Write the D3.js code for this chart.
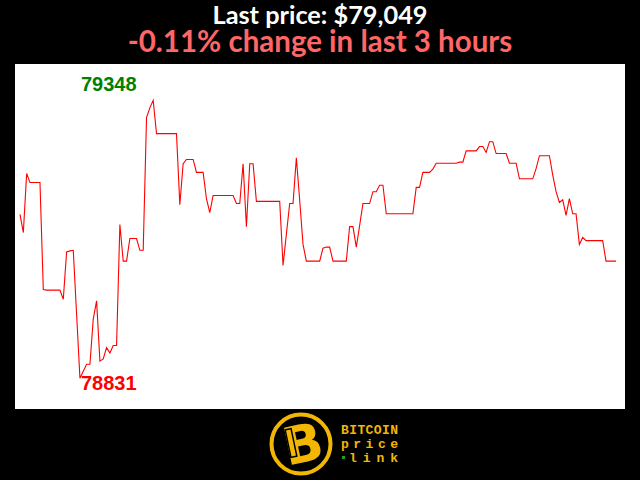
<!DOCTYPE html>
<html>
<head>
<meta charset="utf-8">
<script src="https://cdn.jsdelivr.net/npm/d3@7"></script>
<style>
  html, body { margin: 0; padding: 0; background: #000; }
  svg { display: block; }
</style>
</head>
<body>
<svg id="chart" width="640" height="480"></svg>
<script>
// ---- data (one price per minute, last 3 hours) ----
const titleText = "Last price: $79,049";
const subtitleText = "-0.11% change in last 3 hours";
const prices = [
  79136, 79102, 79212, 79195, 79195, 79195, 79195, 78996, 78995, 78995,
  78995, 78995, 78995, 78978, 79066, 79068, 79069, 78950, 78831, 78844,
  78857, 78857, 78941, 78975, 78863, 78867, 78888, 78878, 78892, 78892,
  79117, 79049, 79049, 79091, 79091, 79091, 79069, 79069, 79316, 79334,
  79348, 79286, 79286, 79286, 79286, 79286, 79286, 79286, 79154, 79230,
  79238, 79238, 79238, 79214, 79214, 79214, 79165, 79139, 79171, 79171,
  79171, 79171, 79171, 79171, 79171, 79156, 79156, 79230, 79113, 79230,
  79230, 79160, 79160, 79160, 79160, 79160, 79160, 79160, 79160, 79041,
  79099, 79156, 79156, 79241, 79162, 79080, 79049, 79049, 79049, 79049,
  79049, 79073, 79075, 79075, 79049, 79049, 79049, 79049, 79049, 79113,
  79113, 79075, 79115, 79156, 79156, 79156, 79178, 79178, 79190, 79190,
  79137, 79137, 79137, 79137, 79137, 79137, 79137, 79137, 79137, 79186,
  79186, 79214, 79214, 79214, 79220, 79231, 79231, 79231, 79231, 79231,
  79231, 79231, 79233, 79233, 79254, 79254, 79254, 79254, 79262, 79262,
  79251, 79271, 79271, 79249, 79249, 79249, 79249, 79231, 79231, 79231,
  79202, 79202, 79202, 79202, 79202, 79221, 79245, 79245, 79245, 79245,
  79209, 79178, 79158, 79163, 79134, 79165, 79137, 79137, 79080, 79093,
  79087, 79087, 79087, 79087, 79087, 79087, 79049, 79049, 79049, 79049
];
const minutes = prices.map((d, i) => i);
const logoLines = ["BITCOIN", "price", "link"];

// ---- drawing ----
const svg = d3.select("#chart");

svg.append("rect").attr("x", 0).attr("y", 0).attr("width", 640).attr("height", 480).attr("fill", "#000");
svg.append("rect").attr("x", 15).attr("y", 64).attr("width", 610).attr("height", 345).attr("fill", "#fff");

const x = d3.scaleLinear().domain(d3.extent(minutes)).range([20, 616]);
const [minP, maxP] = d3.extent(prices);
const y = d3.scaleLinear().domain([minP, maxP]).range([378.3, 100.3]);

const line = d3.line().x((d, i) => x(minutes[i])).y(d => y(d));
svg.append("path")
  .datum(prices)
  .attr("d", line)
  .attr("fill", "none")
  .attr("stroke", "#ff0000")
  .attr("stroke-width", 1.1)
  .attr("stroke-linejoin", "miter");

// max / min labels
svg.append("text")
  .attr("x", 81).attr("y", 90.5)
  .attr("font-family", "Liberation Sans, Arial, sans-serif")
  .attr("font-weight", "bold").attr("font-size", 20)
  .attr("fill", "#008000")
  .text(maxP);
svg.append("text")
  .attr("x", 81).attr("y", 390)
  .attr("font-family", "Liberation Sans, Arial, sans-serif")
  .attr("font-weight", "bold").attr("font-size", 20)
  .attr("fill", "#ff0000")
  .text(minP);

// titles
svg.append("text")
  .attr("x", 320).attr("y", 24)
  .attr("text-anchor", "middle")
  .attr("font-family", "Lato, 'Open Sans', sans-serif")
  .attr("font-weight", "bold").attr("font-size", 25.3)
  .attr("fill", "#ffffff")
  .text(titleText);
svg.append("text")
  .attr("x", 320).attr("y", 52)
  .attr("text-anchor", "middle")
  .attr("font-family", "Lato, 'Open Sans', sans-serif")
  .attr("font-weight", "bold").attr("font-size", 29.5)
  .attr("fill", "#ff6666")
  .text(subtitleText);

// logo
const gold = "#f2b705";
const logo = svg.append("g");
logo.append("circle").attr("cx", 301).attr("cy", 444).attr("r", 29.5)
  .attr("fill", "#000").attr("stroke", gold).attr("stroke-width", 4);
logo.append("text")
  .attr("x", 303).attr("y", 462)
  .attr("text-anchor", "middle")
  .attr("font-family", "DejaVu Sans, sans-serif")
  .attr("font-weight", "bold").attr("font-size", 52)
  .attr("fill", gold)
  .attr("transform", "rotate(-12 303 444)")
  .text("B");
logo.append("rect").attr("x", 288).attr("y", 429).attr("width", 6).attr("height", 28)
  .attr("fill", "none").attr("stroke", "#000").attr("stroke-width", 1.5)
  .attr("transform", "rotate(-12 291 443)");

const ly = [434, 448, 462];
logoLines.forEach((t, i) => {
  logo.append("text")
    .attr("x", i === 2 ? 349 : 341).attr("y", ly[i])
    .attr("font-family", "Liberation Mono, 'DejaVu Sans Mono', monospace")
    .attr("font-weight", "bold").attr("font-size", 13)
    .attr("fill", gold)
    .attr("textLength", i === 2 ? 49 : 57).attr("lengthAdjust", "spacing")
    .text(t);
});
logo.append("rect").attr("x", 342).attr("y", 456).attr("width", 3).attr("height", 3).attr("fill", "#1fa31f");
</script>
</body>
</html>
